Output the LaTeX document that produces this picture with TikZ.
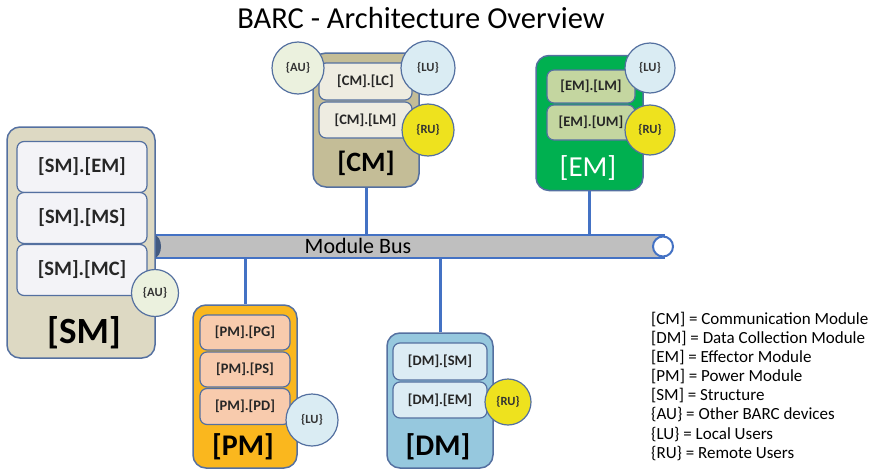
\documentclass[tikz,border=0pt]{standalone}
\usepackage{fontspec}
\setmainfont{Carlito}
\usetikzlibrary{positioning,calc,shapes.geometric}
\definecolor{bordblue}{RGB}{84,112,160}
\definecolor{busblue}{RGB}{68,114,196}
\definecolor{busgray}{RGB}{191,191,191}
\definecolor{smfill}{RGB}{221,217,195}
\definecolor{sminner}{RGB}{243,243,247}
\definecolor{cmfill}{RGB}{196,189,151}
\definecolor{cminner}{RGB}{238,236,225}
\definecolor{emfill}{RGB}{0,176,80}
\definecolor{eminner}{RGB}{196,214,160}
\definecolor{pmfill}{RGB}{250,183,30}
\definecolor{pminner}{RGB}{248,203,173}
\definecolor{dmfill}{RGB}{150,200,222}
\definecolor{dminner}{RGB}{220,236,244}
\definecolor{aufill}{RGB}{235,241,222}
\definecolor{lufill}{RGB}{218,236,243}
\definecolor{rufill}{RGB}{238,226,30}
\tikzset{
	modbox/.style={rectangle,rounded corners=13pt,draw=bordblue,line width=1.5pt,inner sep=0},
	subbox/.style={rectangle,rounded corners=7pt,draw=bordblue,line width=1.2pt,inner sep=0,font=\fontsize{14.5}{16}\selectfont\bfseries,text=black!85},
	modlabel/.style={font=\fontsize{30}{32}\selectfont\bfseries},
	usernode/.style={circle,draw=bordblue,line width=1.2pt,inner sep=0,font=\fontsize{12.5}{14}\selectfont\bfseries,text=black!80},
	buslink/.style={draw=busblue,line width=3pt}
}

\begin{document}
\begin{tikzpicture}[x=1pt,y=-1pt]
		\useasboundingbox (0,0) rectangle (878,471);

		\node (title) at (421,18) {\fontsize{30.5}{32}\selectfont BARC - Architecture Overview};

		% module bus
		\node [rectangle,draw=busblue,line width=1.5pt,fill=busgray,minimum width=512pt,minimum height=23pt,inner sep=0] (bus) at (408,246.5) {};
		\node [ellipse,fill=bordblue!80!black,minimum width=14pt,minimum height=23pt,inner sep=0] (busleft) at (154,246.5) {};
		\node [circle,draw=busblue,line width=2pt,fill=white,minimum size=20pt,inner sep=0] (busright) at (663,246.5) {};
		\node [font=\fontsize{22}{24}\selectfont] (bustext) at (358,246) {Module Bus};

		% [SM]
		\node [modbox, fill=smfill, minimum width=148pt, minimum height=231pt] (sm) at (81,242.5) {};
		\node [subbox, fill=sminner, minimum width=130pt, minimum height=51pt, font=\fontsize{20.5}{22}\selectfont\bfseries] (smem) at (82,167) {[SM].[EM]};
		\node [subbox, fill=sminner, minimum width=130pt, minimum height=51pt, font=\fontsize{20.5}{22}\selectfont\bfseries] (smms) at (82,218) {[SM].[MS]};
		\node [subbox, fill=sminner, minimum width=130pt, minimum height=51pt, font=\fontsize{20.5}{22}\selectfont\bfseries] (smmc) at (82,270) {[SM].[MC]};
		\node [modlabel, font=\fontsize{37}{40}\selectfont\bfseries] (smlabel) at (84,333) {[SM]};
		\node [usernode, fill=aufill, minimum size=47pt] (smau) at (155,293) {\{AU\}};

		% [CM]
		\node [modbox, fill=cmfill, minimum width=106pt, minimum height=134pt] (cm) at (366,120) {};
		\node [subbox, fill=cminner, minimum width=93pt, minimum height=37pt] (cmlc) at (365.5,81.5) {[CM].[LC]};
		\node [subbox, fill=cminner, minimum width=93pt, minimum height=36pt] (cmlm) at (365.5,120) {[CM].[LM]};
		\node [modlabel, font=\fontsize{28}{30}\selectfont\bfseries] (cmlabel) at (366,163) {[CM]};
		\node [usernode, fill=aufill, minimum size=52pt] (cmau) at (298,68) {\{AU\}};
		\node [usernode, fill=lufill, minimum size=54pt] (cmlu) at (428,68) {\{LU\}};
		\node [usernode, fill=rufill, minimum size=52pt] (cmru) at (428,130) {\{RU\}};

		% [EM]
		\node [modbox, fill=emfill, minimum width=107pt, minimum height=135pt] (em) at (589.5,123) {};
		\node [subbox, fill=eminner, minimum width=88pt, minimum height=33pt] (emlm) at (591,86.5) {[EM].[LM]};
		\node [subbox, fill=eminner, minimum width=88pt, minimum height=35pt] (emum) at (591,122.5) {[EM].[UM]};
		\node [modlabel, text=white, font=\fontsize{29}{30}\selectfont] (emlabel) at (588,168) {[EM]};
		\node [usernode, fill=lufill, minimum size=50pt] (emlu) at (650,68) {\{LU\}};
		\node [usernode, fill=rufill, minimum size=50pt] (emru) at (650,130) {\{RU\}};

		% [PM]
		\node [modbox, fill=pmfill, minimum width=104pt, minimum height=163pt] (pm) at (245,386.5) {};
		\node [subbox, fill=pminner, minimum width=90pt, minimum height=35pt] (pmpg) at (245,332.5) {[PM].[PG]};
		\node [subbox, fill=pminner, minimum width=90pt, minimum height=35pt] (pmps) at (245,369.5) {[PM].[PS]};
		\node [subbox, fill=pminner, minimum width=90pt, minimum height=36pt] (pmpd) at (245,406.5) {[PM].[PD]};
		\node [modlabel] (pmlabel) at (243,447) {[PM]};
		\node [usernode, fill=lufill, minimum size=52pt] (pmlu) at (312,420) {\{LU\}};

		% [DM]
		\node [modbox, fill=dmfill, minimum width=106pt, minimum height=135pt] (dm) at (440,400.5) {};
		\node [subbox, fill=dminner, minimum width=94pt, minimum height=37pt] (dmsm) at (440,361.5) {[DM].[SM]};
		\node [subbox, fill=dminner, minimum width=94pt, minimum height=36pt] (dmem) at (440,400) {[DM].[EM]};
		\node [modlabel] (dmlabel) at (438,447) {[DM]};
		\node [usernode, fill=rufill, minimum size=46pt] (dmru) at (508,402) {\{RU\}};

		\draw [buslink] (cm.south) to (cm.south |- bus.north);
		\draw [buslink] (em.south) to (em.south |- bus.north);
		\draw [buslink] (pm.north) to (pm.north |- bus.south);
		\draw [buslink] (dm.north) to (dm.north |- bus.south);

		% legend
		\node [anchor=north west, align=left, inner sep=0, font=\fontsize{17}{19.1}\selectfont] (legend) at (651,312) {%
			{[CM] = Communication Module}\\
			{[DM] = Data Collection Module}\\
			{[EM] = Effector Module}\\
			{[PM] = Power Module}\\
			{[SM] = Structure}\\
			{\{AU\} = Other BARC devices}\\
			{\{LU\} = Local Users}\\
			{\{RU\} = Remote Users}};
\end{tikzpicture}
\end{document}
